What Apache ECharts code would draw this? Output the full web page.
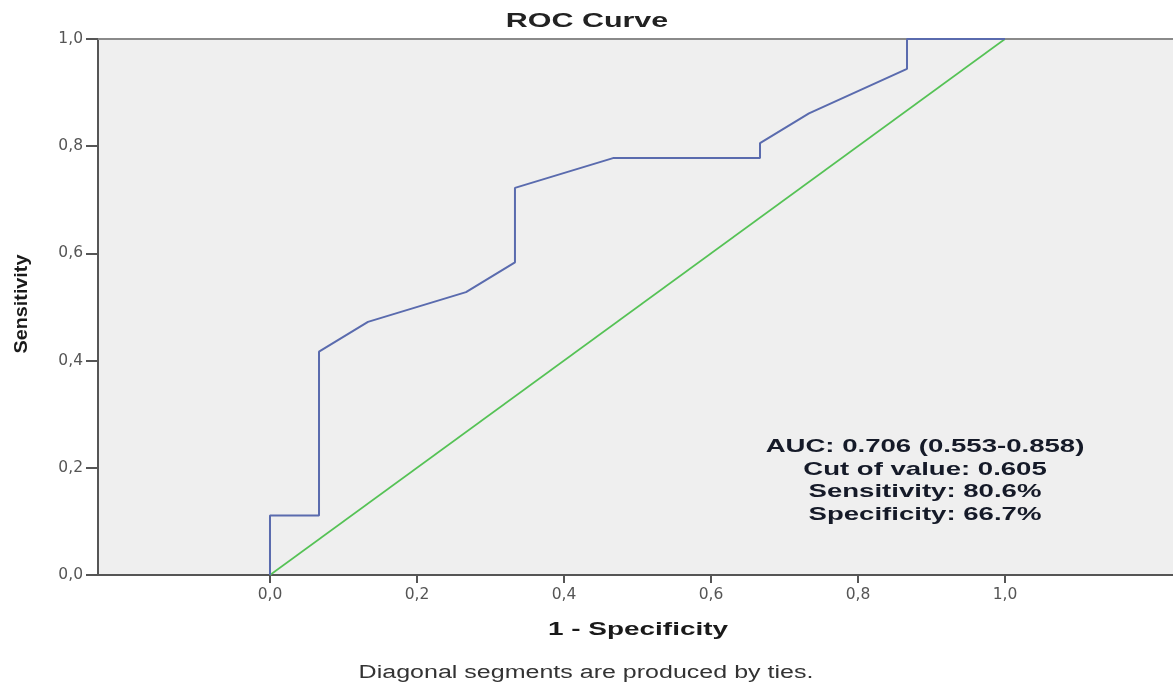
<!DOCTYPE html>
<html>
<head>
<meta charset="utf-8">
<script src="https://cdn.jsdelivr.net/npm/echarts@6/dist/echarts.min.js"></script>
<style>html,body{margin:0;padding:0;background:#fff;}#c{width:1173px;height:684px;}</style>
</head>
<body>
<div id="c"></div>
<script>
// ROC curve points (1 - specificity, sensitivity)
var rocFpr = [0, 0, 0.0667, 0.0667, 0.1333, 0.2667, 0.3333, 0.3333, 0.4667, 0.6667, 0.6667, 0.7333, 0.8667, 0.8667, 1.0];
var rocTpr = [0, 0.1111, 0.1111, 0.4167, 0.4722, 0.5278, 0.5833, 0.7222, 0.7778, 0.7778, 0.8056, 0.8611, 0.9444, 1.0, 1.0];
// reference diagonal
var refX = [0, 1];
var refY = [0, 1];
// tick values
var xTicks = [0, 0.2, 0.4, 0.6, 0.8, 1.0];
var yTicks = [0, 0.2, 0.4, 0.6, 0.8, 1.0];
// texts
var titleText = 'ROC Curve';
var xName = '1 - Specificity';
var yName = 'Sensitivity';
var footnote = 'Diagonal segments are produced by ties.';
var annotLines = ['AUC: 0.706 (0.553-0.858)', 'Cut of value: 0.605', 'Sensitivity: 80.6%', 'Specificity: 66.7%'];

var chart = echarts.init(document.getElementById('c'), null, {renderer: 'canvas'});
function fmt(v){ return Number(v).toFixed(1).replace('.', ','); }
var rocData = rocFpr.map(function(x, i){ return [x, rocTpr[i]]; });
var refData = refX.map(function(x, i){ return [x, refY[i]]; });

var boldFont = 'Liberation Sans, Arial, sans-serif';
var graphics = [
  {type:'text', x:587, y:21, scaleX:1.45, z:100, style:{text:titleText, fontFamily:boldFont, fontWeight:'bold', fontSize:21, fill:'#222', align:'center', verticalAlign:'middle'}},
  {type:'text', x:638, y:630, scaleX:1.47, z:100, style:{text:xName, fontFamily:boldFont, fontWeight:'bold', fontSize:19, fill:'#1a1a1a', align:'center', verticalAlign:'middle'}},
  {type:'text', x:586, y:673, scaleX:1.39, z:100, style:{text:footnote, fontFamily:boldFont, fontSize:18, fill:'#333', align:'center', verticalAlign:'middle'}},
  {type:'text', x:22, y:304, rotation:Math.PI/2, scaleX:1.04, z:100, style:{text:yName, fontFamily:boldFont, fontWeight:'bold', fontSize:19, fill:'#1a1a1a', align:'center', verticalAlign:'middle'}}
];
var annotY = [447, 469.5, 492, 514.5];
annotLines.forEach(function(t, i){
  graphics.push({type:'text', x:925, y:annotY[i], scaleX:1.49, z:100, style:{text:t, fontFamily:boldFont, fontWeight:'bold', fontSize:18.5, fill:'#151a28', align:'center', verticalAlign:'middle'}});
});

var xMin = -0.234, xMax = 1.2286;
var option = {
  animation: false,
  backgroundColor: '#ffffff',
  grid: {left: 98, right: 0, top: 39, bottom: 109, show: true, backgroundColor: '#efefef', borderWidth: 0},
  xAxis: [{
    type: 'value', min: xMin, max: xMax,
    axisLine: {show: true, onZero: false, lineStyle: {color: '#555', width: 2}},
    axisTick: {show: true, length: 8, customValues: xTicks, lineStyle: {color: '#555', width: 2}},
    axisLabel: {show: true, customValues: xTicks, formatter: fmt, margin: 12, color: '#555', fontFamily: 'DejaVu Sans', fontSize: 15.5},
    splitLine: {show: false}
  }, {
    type: 'value', position: 'top', min: xMin, max: xMax,
    axisLine: {show: true, onZero: false, lineStyle: {color: '#8a8a8a', width: 2}},
    axisTick: {show: false}, axisLabel: {show: false}, splitLine: {show: false}
  }],
  yAxis: {
    type: 'value', min: 0, max: 1, interval: 0.2,
    axisLine: {show: true, onZero: false, lineStyle: {color: '#555', width: 2}},
    axisTick: {show: true, length: 12, lineStyle: {color: '#555', width: 2}},
    axisLabel: {show: true, formatter: fmt, margin: 15, color: '#555', fontFamily: 'DejaVu Sans', fontSize: 15.5},
    splitLine: {show: false}
  },
  series: [
    {type: 'line', xAxisIndex: 0, data: refData, showSymbol: false, symbol: 'none', clip: false, lineStyle: {color: '#55c255', width: 1.6}, z: 2},
    {type: 'line', xAxisIndex: 0, data: rocData, showSymbol: false, symbol: 'none', clip: false, lineStyle: {color: '#5a6bae', width: 2}, z: 3}
  ],
  graphic: graphics
};
chart.setOption(option);
</script>
</body>
</html>
